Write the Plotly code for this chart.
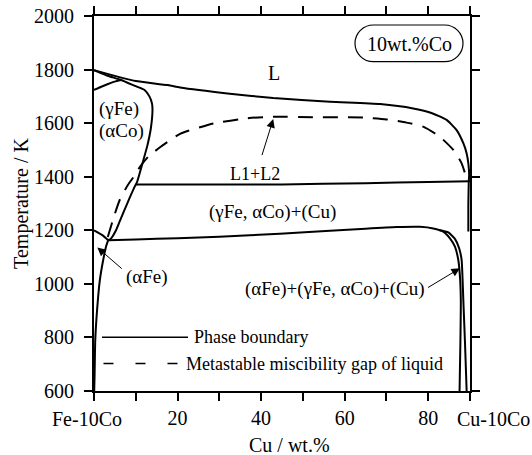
import plotly.graph_objects as go

FONT = "Liberation Serif"

# ---------------- data (Cu wt.%, Temperature K) ----------------
liq_x = [0, 3.0, 6.5, 10, 17.7, 20.6, 32.5, 42.9, 56.5, 68.5, 76.4, 80.4, 84.4, 86.8, 88.4, 89.2, 89.6, 89.8, 89.7, 89.6, 89.6]
liq_t = [1798, 1785, 1770, 1757, 1742, 1733, 1710, 1694, 1680, 1671, 1655, 1640, 1612, 1574, 1525, 1487, 1450, 1410, 1380, 1290, 1195]

gam_x = [0, 3.1, 6.5, 9.8, 12.1, 13.3, 13.9, 14.0, 13.6, 12.8, 11.6, 10.3, 9.8, 8.5, 7.3, 6.2, 5.3, 4.1, 3.4]
gam_t = [1798, 1778, 1761, 1739, 1724, 1699, 1672, 1648, 1580, 1518, 1450, 1380, 1365, 1320, 1276, 1235, 1201, 1170, 1163]

arc_x = [0, 1.75, 3.35, 4.95, 6.5]
arc_t = [1724, 1736, 1746, 1755, 1761]

mono_x = [10.0, 45, 65, 80, 90]
mono_t = [1371, 1371, 1376, 1380, 1383]

low_x = [3.4, 10, 20, 30, 44.5, 56.5, 65, 72.4, 78, 81.2, 83.6, 85.2, 86.4, 87.2, 87.6, 87.8, 87.7, 87.5]
low_t = [1163, 1166, 1170, 1176, 1187, 1198, 1206, 1212, 1213, 1207, 1195, 1170, 1139, 1089, 1027, 940, 780, 600]

cu_x = [82.5, 84.8, 86.4, 87.4, 88.0, 88.2, 88.4, 88.8, 89.2]
cu_t = [1201, 1192, 1168, 1133, 1089, 1027, 940, 780, 600]

short_x = [0, 2.0, 2.9, 3.4]
short_t = [1200, 1182, 1170, 1163]

afe_x = [3.4, 2.9, 2.2, 1.4, 0.8, 0.3, 0.15, 0.05]
afe_t = [1163, 1140, 1089, 1014, 915, 790, 667, 600]

gap_x = [3.3, 4.9, 6.15, 8.1, 9.5, 11, 13, 15.8, 20.6, 28.6, 36.5, 42.9, 52.4, 64.4, 70, 74.8, 78.8, 82.8, 86, 88, 88.8]
gap_t = [1175, 1257, 1313, 1369, 1400, 1437, 1475, 1510, 1560, 1599, 1618, 1624, 1622, 1621, 1614, 1602, 1587, 1549, 1500, 1450, 1413]

x_tickvals = [0, 10, 20, 30, 40, 50, 60, 70, 80, 90]
x_ticktext = ["", "", "20", "", "40", "", "60", "", "80", ""]
x_end_labels = ["Fe-10Co", "Cu-10Co"]
y_tickvals = [600, 800, 1000, 1200, 1400, 1600, 1800, 2000]

# ---------------- figure ----------------
fig = go.Figure()
solid = dict(color="black", width=2)
for xs, ts in [(liq_x, liq_t), (gam_x, gam_t), (arc_x, arc_t), (mono_x, mono_t),
               (low_x, low_t), (cu_x, cu_t), (short_x, short_t), (afe_x, afe_t)]:
    fig.add_trace(go.Scatter(x=xs, y=ts, mode="lines", line=dict(solid, shape="spline", smoothing=0.5),
                             name="Phase boundary", showlegend=False, hoverinfo="skip"))
fig.add_trace(go.Scatter(x=gap_x, y=gap_t, mode="lines",
                         line=dict(color="black", width=2, dash="15px,10px", shape="spline", smoothing=0.5),
                         name="Metastable miscibility gap of liquid", showlegend=False, hoverinfo="skip"))

# ---------------- annotations ----------------
texts = [
    ("L", 43.2, 1786, "center", 20),
    ("(γFe)", 0.6, 1651, "left", 19),
    ("(αCo)", 0.6, 1571, "left", 19),
    ("L1+L2", 38.5, 1410, "center", 18),
    ("(γFe, αCo)+(Cu)", 42.7, 1270, "center", 19),
    ("(αFe)", 12.8, 1026, "center", 19),
    ("(αFe)+(γFe, αCo)+(Cu)", 79.6, 979, "right", 19),
]
for t, x, y, anc, sz in texts:
    fig.add_annotation(x=x, y=y, text=t, showarrow=False, xanchor=anc, yanchor="middle",
                       font=dict(family=FONT, size=sz, color="black"))

arrows = [
    (0.8, 1136, 7.0, 1052),
    (42.9, 1615, 40.1, 1475),
    (87.6, 1058, 79.6, 983),
]
for hx, hy, tx, ty in arrows:
    fig.add_annotation(x=hx, y=hy, ax=tx, ay=ty, xref="x", yref="y", axref="x", ayref="y",
                       text="", showarrow=True, arrowhead=2, arrowsize=1.7, arrowwidth=1,
                       arrowcolor="black", standoff=0)

# ---------------- manual legend, end labels, x title & label box (paper coords) ----------------
L, R, T, B = 94, 470, 16, 391
def px(xp):
    return (xp - L) / (R - L)
def py(yp):
    return (B - yp) / (B - T)

fig.add_annotation(xref="paper", yref="paper", x=px(87), y=py(419), text=x_end_labels[0], showarrow=False,
                   xanchor="center", yanchor="middle", font=dict(family=FONT, size=20, color="black"))
fig.add_annotation(xref="paper", yref="paper", x=px(493), y=py(419), text=x_end_labels[1], showarrow=False,
                   xanchor="center", yanchor="middle", font=dict(family=FONT, size=20, color="black"))
fig.add_annotation(xref="paper", yref="paper", x=px(289), y=py(445), text="Cu / wt.%", showarrow=False,
                   xanchor="center", yanchor="middle", font=dict(family=FONT, size=20, color="black"))

fig.add_shape(type="line", xref="paper", yref="paper", x0=px(102), x1=px(188), y0=py(337.3), y1=py(337.3),
              line=dict(color="black", width=1.5))
fig.add_annotation(xref="paper", yref="paper", x=px(192), y=py(337.3), text="Phase boundary",
                   showarrow=False, xanchor="left", yanchor="middle", font=dict(family=FONT, size=18, color="black"))
fig.add_shape(type="line", xref="paper", yref="paper", x0=px(103.5), x1=px(178.5), y0=py(363.5), y1=py(363.5),
              line=dict(color="black", width=1.5, dash="10px,22px"))
fig.add_annotation(xref="paper", yref="paper", x=px(184), y=py(363.5), text="Metastable miscibility gap of liquid",
                   showarrow=False, xanchor="left", yanchor="middle", font=dict(family=FONT, size=18, color="black"))

# stadium box
bx0, bx1, by0, by1 = 355, 463, 25, 61.7
r = (by1 - by0) / 2
k = 0.5523 * r
def P(a, b):
    return f"{px(a):.5f},{py(b):.5f}"
path = (f"M {P(bx0 + r, by0)} L {P(bx1 - r, by0)} "
        f"C {P(bx1 - r + k, by0)} {P(bx1, by0 + r - k)} {P(bx1, by0 + r)} "
        f"C {P(bx1, by0 + r + k)} {P(bx1 - r + k, by1)} {P(bx1 - r, by1)} "
        f"L {P(bx0 + r, by1)} "
        f"C {P(bx0 + r - k, by1)} {P(bx0, by0 + r + k)} {P(bx0, by0 + r)} "
        f"C {P(bx0, by0 + r - k)} {P(bx0 + r - k, by0)} {P(bx0 + r, by0)} Z")
fig.add_shape(type="path", xref="paper", yref="paper", path=path, line=dict(color="black", width=1.2))
fig.add_annotation(xref="paper", yref="paper", x=px(409), y=py(43.5), text="10wt.%Co", showarrow=False,
                   xanchor="center", yanchor="middle", font=dict(family=FONT, size=20, color="black"))

axis_common = dict(showline=True, linecolor="black", linewidth=2, mirror="allticks", ticks="outside",
                   ticklen=8, tickwidth=1.5, tickcolor="black", showgrid=False, zeroline=False,
                   tickfont=dict(family=FONT, size=20, color="black"))
fig.update_layout(
    width=532, height=455, margin=dict(l=L, r=532 - R, t=T, b=455 - B),
    paper_bgcolor="white", plot_bgcolor="white", showlegend=False,
    font=dict(family=FONT, size=20, color="black"),
    xaxis=dict(axis_common, range=[0, 90], tickvals=x_tickvals, ticktext=x_ticktext, tickangle=0),
    yaxis=dict(axis_common, range=[600, 2000], tickvals=y_tickvals, ticklabelstandoff=6,
               title=dict(text="Temperature / K", font=dict(family=FONT, size=20, color="black"), standoff=0)),
)
fig.update_xaxes(automargin=False)
fig.update_yaxes(automargin=False)

fig.write_html("out.html")
